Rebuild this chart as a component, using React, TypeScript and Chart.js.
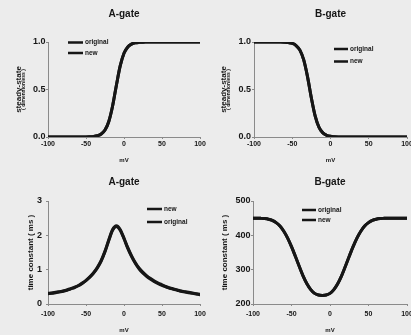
import React, { useEffect, useRef } from 'react';
import { Chart, registerables } from 'chart.js';

Chart.register(...registerables);

// ---------- data ----------
const voltages = [
  -100, -95, -90, -85, -80, -75, -70, -65, -60, -55, -50, -45, -40, -35, -30, -25, -20, -15, -10, -5,
  0, 5, 10, 15, 20, 25, 30, 35, 40, 45, 50, 55, 60, 65, 70, 75, 80, 85, 90, 95, 100,
];

const aSteadyOriginal = [
  0, 0, 0, 0, 0, 0, 0, 0, 0.001, 0.001, 0.001, 0.002, 0.005, 0.013, 0.031, 0.073, 0.163, 0.326, 0.545, 0.748,
  0.881, 0.948, 0.978, 0.991, 0.996, 0.998, 0.999, 1, 1, 1, 1, 1, 1, 1, 1, 1, 1, 1, 1, 1, 1,
];
const aSteadyNew = [
  0, 0, 0, 0, 0, 0, 0, 0, 0.001, 0.001, 0.001, 0.002, 0.005, 0.013, 0.031, 0.073, 0.163, 0.326, 0.545, 0.748,
  0.881, 0.948, 0.978, 0.991, 0.996, 0.998, 0.999, 1, 1, 1, 1, 1, 1, 1, 1, 1, 1, 1, 1, 1, 1,
];

const bSteadyOriginal = [
  1, 1, 1, 1, 1, 1, 1, 1, 0.998, 0.994, 0.985, 0.963, 0.914, 0.811, 0.633, 0.41, 0.219, 0.101, 0.043, 0.018,
  0.007, 0.003, 0.001, 0, 0, 0, 0, 0, 0, 0, 0, 0, 0, 0, 0, 0, 0, 0, 0, 0, 0,
];
const bSteadyNew = [
  1, 1, 1, 1, 1, 1, 1, 1, 0.998, 0.994, 0.985, 0.963, 0.914, 0.811, 0.633, 0.41, 0.219, 0.101, 0.043, 0.018,
  0.007, 0.003, 0.001, 0, 0, 0, 0, 0, 0, 0, 0, 0, 0, 0, 0, 0, 0, 0, 0, 0, 0,
];

const aTauOriginal = [
  0.3, 0.31, 0.33, 0.35, 0.37, 0.4, 0.44, 0.48, 0.53, 0.6, 0.68, 0.78, 0.9, 1.05, 1.25, 1.52, 1.85, 2.15, 2.26, 2.15,
  1.9, 1.62, 1.38, 1.18, 1.02, 0.9, 0.8, 0.72, 0.65, 0.59, 0.54, 0.5, 0.46, 0.43, 0.4, 0.37, 0.35, 0.33, 0.31, 0.29, 0.27,
];
const aTauNew = [
  0.31, 0.32, 0.34, 0.36, 0.38, 0.41, 0.45, 0.49, 0.54, 0.61, 0.69, 0.79, 0.91, 1.07, 1.27, 1.54, 1.87, 2.17, 2.28, 2.17,
  1.92, 1.64, 1.4, 1.2, 1.04, 0.92, 0.82, 0.74, 0.67, 0.61, 0.56, 0.51, 0.47, 0.44, 0.41, 0.38, 0.36, 0.34, 0.32, 0.3, 0.28,
];

const bTauOriginal = [
  450, 450, 449.5, 448.7, 447, 443.5, 437, 427, 412, 392, 367, 339, 310, 282, 259, 242, 231, 226, 225, 226,
  231, 242, 259, 282, 310, 339, 367, 392, 412, 427, 437, 443.5, 447, 448.7, 449.5, 450, 450, 450, 450, 450, 450,
];
const bTauNew = [
  450, 450, 449.5, 448.7, 447, 443.5, 437, 427, 412, 392, 367, 339, 310, 282, 259, 242, 231, 226, 225, 226,
  231, 242, 259, 282, 310, 339, 367, 392, 412, 427, 437, 443.5, 447, 448.7, 449.5, 450, 450, 450, 450, 450, 450,
];

const xTickValues = [-100, -50, 0, 50, 100];
const xTickLabels = ['-100', '-50', '0', '50', '100'];
const steadyTickValues = [0, 0.5, 1];
const steadyTickLabels = ['0.0', '0.5', '1.0'];
const aTauTickValues = [0, 1, 2, 3];
const aTauTickLabels = ['0', '1', '2', '3'];
const bTauTickValues = [200, 300, 400, 500];
const bTauTickLabels = ['200', '300', '400', '500'];

// ---------- styling ----------
const FONT = '"Liberation Sans", Arial, sans-serif';
const INK = '#161616';
const AXIS = '#8a8a8a';

type Series = { label: string; values: number[]; width: number };
type Spec = {
  left: number; top: number; width: number; height: number;
  title: string; topHeight: number; titlePadTop: number;
  series: Series[];
  yMin: number; yMax: number; yTicks: number[]; yLabels: string[];
  yWidth: number; yTitle: string; yTitleSize: number; yTitlePadTop: number; yTickPad: number;
  outerTitle?: string; outerWidth?: number; outerTitlePadTop?: number; outerTitleSize?: number;
  rightPad: number; xHeight: number; xTickPad: number; mvPadBottom: number;
  legend: { x: number; y: number; dy: number; len: number };
};

function legendPlugin(spec: Spec) {
  return {
    id: 'insideLegend',
    afterDatasetsDraw(chart: any) {
      const ctx = chart.ctx;
      ctx.save();
      chart.data.datasets.forEach((ds: any, i: number) => {
        const y = spec.legend.y + i * spec.legend.dy;
        ctx.strokeStyle = INK;
        ctx.lineWidth = 2.5;
        ctx.beginPath();
        ctx.moveTo(spec.legend.x, y);
        ctx.lineTo(spec.legend.x + spec.legend.len, y);
        ctx.stroke();
        ctx.fillStyle = INK;
        ctx.font = `bold 6.5px ${FONT}`;
        ctx.textBaseline = 'middle';
        ctx.textAlign = 'left';
        ctx.fillText(ds.label, spec.legend.x + spec.legend.len + 2, y);
      });
      ctx.restore();
    },
  };
}

function buildConfig(spec: Spec): any {
  const scales: any = {
    x: {
      type: 'linear',
      position: 'bottom',
      min: -100,
      max: 100,
      afterBuildTicks: (s: any) => { s.ticks = xTickValues.map((v) => ({ value: v })); },
      afterFit: (s: any) => { s.height = spec.xHeight; },
      ticks: {
        autoSkip: false, maxRotation: 0, padding: spec.xTickPad, color: INK,
        font: { family: FONT, size: 7, weight: 'bold' },
        callback: (_v: any, i: number) => xTickLabels[i],
      },
      grid: { display: true, drawOnChartArea: false, drawTicks: true, tickLength: 2, color: AXIS },
      border: { display: true, color: AXIS, width: 1, dash: [2, 2] },
      title: {
        display: true, text: 'mV', color: INK,
        font: { family: FONT, size: 6, weight: 'bold' },
        padding: { top: 0, bottom: spec.mvPadBottom },
      },
    },
    xTop: {
      type: 'linear',
      position: 'top',
      display: true,
      afterFit: (s: any) => { s.height = spec.topHeight; },
      ticks: { display: false },
      grid: { display: false, drawTicks: false },
      border: { display: false },
      title: {
        display: true, text: spec.title, color: INK,
        font: { family: FONT, size: 10, weight: 'bold' },
        padding: { top: spec.titlePadTop, bottom: 0 },
      },
    },
    y: {
      type: 'linear',
      position: 'left',
      weight: 0,
      min: spec.yMin,
      max: spec.yMax,
      afterBuildTicks: (s: any) => { s.ticks = spec.yTicks.map((v) => ({ value: v })); },
      afterFit: (s: any) => { s.width = spec.yWidth; },
      ticks: {
        autoSkip: false, padding: spec.yTickPad, color: INK,
        font: { family: FONT, size: 9, weight: 'bold' },
        callback: (_v: any, i: number) => spec.yLabels[i],
      },
      grid: { display: true, drawOnChartArea: false, drawTicks: true, tickLength: 2, color: AXIS },
      border: { display: true, color: AXIS, width: 1, dash: [2, 2] },
      title: {
        display: true, text: spec.yTitle, color: INK,
        font: { family: FONT, size: spec.yTitleSize, weight: 'bold', lineHeight: 1.2 },
        padding: { top: spec.yTitlePadTop, bottom: 0 },
      },
    },
  };
  if (spec.outerTitle) {
    scales.yOuter = {
      type: 'linear',
      position: 'left',
      weight: 1,
      display: true,
      afterFit: (s: any) => { s.width = spec.outerWidth; },
      ticks: { display: false },
      grid: { display: false, drawTicks: false },
      border: { display: false },
      title: {
        display: true, text: spec.outerTitle, color: INK,
        font: { family: FONT, size: spec.outerTitleSize, weight: 'bold', lineHeight: 1.2 },
        padding: { top: spec.outerTitlePadTop, bottom: 0 },
      },
    };
  }
  return {
    type: 'line',
    data: {
      datasets: spec.series.map((s) => ({
        label: s.label,
        data: voltages.map((v, i) => ({ x: v, y: s.values[i] })),
        borderColor: INK,
        backgroundColor: INK,
        borderWidth: s.width,
        pointRadius: 0,
        cubicInterpolationMode: 'monotone',
        borderCapStyle: 'round',
        borderJoinStyle: 'round',
        xAxisID: 'x',
        yAxisID: 'y',
      })),
    },
    options: {
      animation: false,
      responsive: false,
      devicePixelRatio: 1,
      layout: { padding: { left: 0, top: 0, bottom: 0, right: spec.rightPad } },
      plugins: { legend: { display: false }, tooltip: { enabled: false }, title: { display: false } },
      scales,
    },
    plugins: [legendPlugin(spec)],
  };
}

const specs: Spec[] = [
  {
    left: 0, top: 0, width: 215, height: 167,
    title: 'A-gate', topHeight: 42, titlePadTop: 8,
    series: [
      { label: 'original', values: aSteadyOriginal, width: 3 },
      { label: 'new', values: aSteadyNew, width: 3 },
    ],
    yMin: 0, yMax: 1, yTicks: steadyTickValues, yLabels: steadyTickLabels,
    yWidth: 27, yTitle: '( dimensionless )', yTitleSize: 5, yTitlePadTop: 0, yTickPad: 0.5,
    outerTitle: 'steady-state', outerWidth: 21, outerTitlePadTop: 14.2, outerTitleSize: 8,
    rightPad: 15, xHeight: 30, xTickPad: 1, mvPadBottom: 3.4,
    legend: { x: 68, y: 42.5, dy: 10.5, len: 15 },
  },
  {
    left: 205, top: 0, width: 215, height: 167,
    title: 'B-gate', topHeight: 42, titlePadTop: 8,
    series: [
      { label: 'original', values: bSteadyOriginal, width: 3 },
      { label: 'new', values: bSteadyNew, width: 3 },
    ],
    yMin: 0, yMax: 1, yTicks: steadyTickValues, yLabels: steadyTickLabels,
    yWidth: 28, yTitle: '( dimensionless )', yTitleSize: 5, yTitlePadTop: 0, yTickPad: 1,
    outerTitle: 'steady-state', outerWidth: 21, outerTitlePadTop: 14.2, outerTitleSize: 8,
    rightPad: 13, xHeight: 30, xTickPad: 1, mvPadBottom: 3.4,
    legend: { x: 129, y: 49, dy: 12.5, len: 14 },
  },
  {
    left: 0, top: 167, width: 215, height: 168,
    title: 'A-gate', topHeight: 34, titlePadTop: 9,
    series: [
      { label: 'new', values: aTauNew, width: 3 },
      { label: 'original', values: aTauOriginal, width: 3 },
    ],
    yMin: 0, yMax: 3, yTicks: aTauTickValues, yLabels: aTauTickLabels,
    yWidth: 48, yTitle: 'time constant ( ms )', yTitleSize: 8, yTitlePadTop: 25.7, yTickPad: 4,
    rightPad: 15, xHeight: 31, xTickPad: 3.8, mvPadBottom: 1.4,
    legend: { x: 147, y: 42, dy: 13, len: 15 },
  },
  {
    left: 205, top: 167, width: 215, height: 168,
    title: 'B-gate', topHeight: 34, titlePadTop: 9,
    series: [
      { label: 'original', values: bTauOriginal, width: 3 },
      { label: 'new', values: bTauNew, width: 3 },
    ],
    yMin: 200, yMax: 500, yTicks: bTauTickValues, yLabels: bTauTickLabels,
    yWidth: 48, yTitle: 'time constant ( ms )', yTitleSize: 8, yTitlePadTop: 15.2, yTickPad: 0.5,
    rightPad: 13, xHeight: 31, xTickPad: 3.8, mvPadBottom: 1.4,
    legend: { x: 97, y: 43, dy: 10, len: 14 },
  },
];

function Panel({ spec }: { spec: Spec }) {
  const ref = useRef<HTMLCanvasElement | null>(null);
  useEffect(() => {
    if (!ref.current) return;
    const chart = new Chart(ref.current, buildConfig(spec));
    return () => chart.destroy();
  }, [spec]);
  return (
    <canvas
      ref={ref}
      width={spec.width}
      height={spec.height}
      style={{ position: 'absolute', left: spec.left, top: spec.top, width: spec.width, height: spec.height }}
    />
  );
}

export default function App() {
  return (
    <div
      style={{
        position: 'fixed', left: 0, top: 0, width: 411, height: 335, overflow: 'hidden',
        background: '#ececec',
      }}
    >
      {specs.map((s, i) => (
        <Panel key={i} spec={s} />
      ))}
    </div>
  );
}
